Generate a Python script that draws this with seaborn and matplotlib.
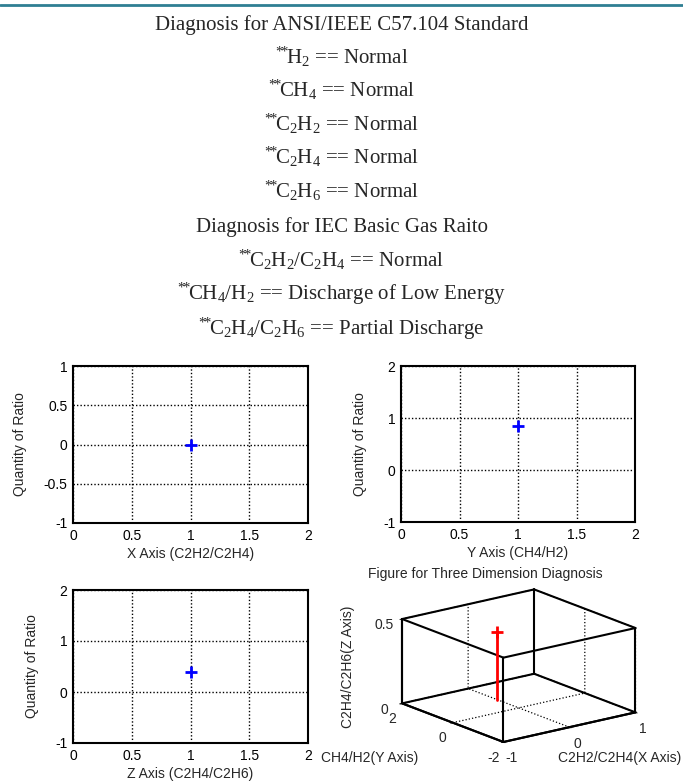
import matplotlib
matplotlib.use("Agg")
import matplotlib.pyplot as plt
import matplotlib.lines as mlines
import numpy as np
import pandas as pd
import seaborn as sns

# ---- data ----
ansi_gases = [r"H$_2$", r"CH$_4$", r"C$_2$H$_2$", r"C$_2$H$_4$", r"C$_2$H$_6$"]
ansi_results = ["Normal", "Normal", "Normal", "Normal", "Normal"]
iec_ratios = [r"C$_2$H$_2$/C$_2$H$_4$", r"CH$_4$/H$_2$", r"C$_2$H$_4$/C$_2$H$_6$"]
iec_results = ["Normal", "Discharge of Low Energy", "Partial Discharge"]

axis_names = ["X Axis (C2H2/C2H4)", "Y Axis (CH4/H2)", "Z Axis (C2H4/C2H6)"]
point_x = [1, 1, 1]
ratio_values = [0.0, 0.85, 0.4]
y_limits = [(-1, 1), (-1, 2), (-1, 2)]
y_steps = [0.5, 1, 1]

# 3D point (x = C2H2/C2H4, y = CH4/H2, z = C2H4/C2H6)
p3_x = [0.0]
p3_y = [0.85]
p3_z = [0.4]
lim3_x = (-1, 1)
lim3_y = (-2, 2)
lim3_z = (0, 0.5)

sns.set_style("white")
plt.rcParams["font.family"] = ["Liberation Sans", "DejaVu Sans"]
plt.rcParams["mathtext.fontset"] = "custom"
plt.rcParams["mathtext.rm"] = "Liberation Serif"
plt.rcParams["mathtext.it"] = "Liberation Serif:italic"
plt.rcParams["mathtext.bf"] = "Liberation Serif:bold"
plt.rcParams["axes.unicode_minus"] = False

W, H = 683, 784
fig = plt.figure(figsize=(W / 100, H / 100), dpi=100)
fig.patch.set_facecolor("white")

def fy(px):
    return 1 - px / H

def fx(px):
    return px / W

# teal rule at the top
fig.add_artist(mlines.Line2D([0, 1], [fy(4.5), fy(4.5)], color="#2f7f93", lw=2))

star = r"$^{\mathrm{*}\!\mathrm{*}}\!$"
serif = dict(family=["Liberation Serif", "DejaVu Serif"], fontsize=15, ha="center", va="baseline")
fig.text(0.5, fy(30), "Diagnosis for ANSI/IEEE C57.104 Standard", **serif)
ansi_base = [64, 97, 131, 164, 198]
for b, g, r in zip(ansi_base, ansi_gases, ansi_results):
    fig.text(0.5, fy(b), star + g + " == " + r, **serif)
fig.text(0.5, fy(232), "Diagnosis for IEC Basic Gas Raito", **serif)
iec_base = [267, 300, 335]
for b, g, r in zip(iec_base, iec_ratios, iec_results):
    fig.text(0.5, fy(b), star + g + " == " + r, **serif)

# ---- 3D panel (added first so it sits below the 2D panels) ----
ax3 = fig.add_axes([fx(334), fy(791), fx(363), 244 / H], projection="3d")
ax3.patch.set_alpha(0)
ax3.set_proj_type("ortho")
ax3.view_init(elev=17, azim=-127.5)
ax3.set_box_aspect((1, 1, 0.53))
ax3.set_xlim(*lim3_x)
ax3.set_ylim(*lim3_y)
ax3.set_zlim(*lim3_z)
ax3.set_xticks([-1, 0, 1])
ax3.set_yticks([-2, 0, 2])
ax3.set_zticks([0, 0.5])
ax3.set_xticklabels(["-1", "0", "1"])
ax3.set_yticklabels(["-2", "0", "2"])
ax3.set_zticklabels(["0", "0.5"])
for axis in (ax3.xaxis, ax3.yaxis, ax3.zaxis):
    axis.set_pane_color((1, 1, 1, 0))
    axis.pane.set_edgecolor("black")
    axis._axinfo["grid"].update(color="black", linestyle=":", linewidth=0.9)
    axis.line.set_color("black")
    axis.line.set_linewidth(1.5)
ax3.tick_params(labelsize=10, pad=-1)

# box edges
xs, ys, zs = lim3_x, lim3_y, lim3_z
for x0 in xs:
    for y0 in ys:
        ax3.plot([x0, x0], [y0, y0], list(zs), color="black", lw=1.5)
for x0 in xs:
    for z0 in zs:
        ax3.plot([x0, x0], list(ys), [z0, z0], color="black", lw=1.5)
for y0 in ys:
    for z0 in zs:
        ax3.plot(list(xs), [y0, y0], [z0, z0], color="black", lw=1.5)

# stem
for x0, y0, z0 in zip(p3_x, p3_y, p3_z):
    ax3.plot([x0, x0], [y0, y0], [0, z0], color="red", lw=2)
ax3.scatter(p3_x, p3_y, p3_z, marker="+", s=70, color="red", linewidths=2, depthshade=False)

# ---- 2D panels ----
rects = [
    (73, 366, 235, 157),
    (401, 366, 234, 156),
    (73, 590, 235, 153),
]
for i, (l, t, w, h) in enumerate(rects):
    ax = fig.add_axes([fx(l), fy(t + h), fx(w), h / H])
    df = pd.DataFrame({"x": [point_x[i]], "y": [ratio_values[i]]})
    sns.scatterplot(data=df, x="x", y="y", ax=ax, marker="+", s=70,
                    color="blue", linewidth=2, zorder=5)
    ax.set_xlim(0, 2)
    ax.set_ylim(*y_limits[i])
    ax.set_xticks(np.arange(0, 2.01, 0.5))
    ax.set_yticks(np.arange(y_limits[i][0], y_limits[i][1] + 0.01, y_steps[i]))
    ax.set_xticklabels(["0", "0.5", "1", "1.5", "2"])
    ax.set_yticklabels([f"{v:g}" for v in ax.get_yticks()])
    ax.grid(True, linestyle=(0, (1, 1.5)), color="black", linewidth=1)
    for s in ax.spines.values():
        s.set_color("black")
        s.set_linewidth(1.5)
    ax.tick_params(direction="in", length=3, labelsize=10, pad=4, colors="black")
    ax.set_xlabel(axis_names[i], fontsize=10, labelpad=3)
    ax.set_ylabel("Quantity of Ratio", fontsize=10, labelpad=12)

fig.text(fx(485), fy(574), "Figure for Three Dimension Diagnosis", fontsize=10, ha="center", va="center")
fig.text(fx(348), fy(667), "C2H4/C2H6(Z Axis)", fontsize=10, ha="center", va="center", rotation=90)
fig.text(fx(370), fy(758), "CH4/H2(Y Axis)", fontsize=10, ha="center", va="center")
fig.text(fx(620), fy(758), "C2H2/C2H4(X Axis)", fontsize=10, ha="center", va="center")

fig.savefig("out.png", dpi=100, facecolor="white")
